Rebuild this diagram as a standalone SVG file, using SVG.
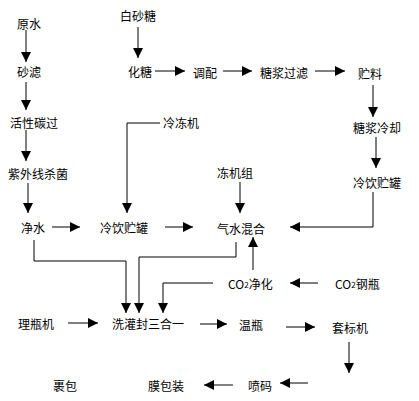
<svg xmlns="http://www.w3.org/2000/svg" width="419" height="401" viewBox="0 0 419 401">
<style>
text{font-family:"Noto Sans CJK SC","Noto Sans",sans-serif;font-size:12px;fill:#000;dominant-baseline:central}
.c path{fill:none;stroke:#000;stroke-width:1;marker-end:url(#a)}
</style>
<defs>
<marker id="a" viewBox="0 0 10 10" refX="10" refY="5" markerWidth="11" markerHeight="10" markerUnits="userSpaceOnUse" orient="auto">
<path d="M0,0 L10,5 L0,10 z" fill="#000"/>
</marker>
</defs>
<rect width="419" height="401" fill="#fff"/>
<g class="c">
<path d="M26,30 V62"/>
<path d="M26,82 V110"/>
<path d="M26,130 V161"/>
<path d="M28,183 V213"/>
<path d="M52,227 H80"/>
<path d="M165,227 H193"/>
<path d="M160,123 H127 V213"/>
<path d="M240,182 V213"/>
<path d="M138,27 V58"/>
<path d="M155,71 H185"/>
<path d="M223,71 H252"/>
<path d="M315,71 H345"/>
<path d="M373,85 V117"/>
<path d="M376,137 V168"/>
<path d="M373,192 V227 H290"/>
<path d="M253,270 V237"/>
<path d="M34,240 V261 H126 V313"/>
<path d="M236,242 V257 H139 V313"/>
<path d="M213,283 H163 V313"/>
<path d="M318,283 H290"/>
<path d="M68,323 H98"/>
<path d="M200,324 H227"/>
<path d="M286,327 H315"/>
<path d="M349,342 V373"/>
<path d="M308,383 H280"/>
<path d="M233,385 H204"/>
</g>
<g id="n1"><text x="17" y="23">原水</text></g>
<g id="n2"><text x="17" y="71">砂滤</text></g>
<g id="n3"><text x="10" y="122">活性碳过</text></g>
<g id="n4"><text x="8" y="173">紫外线杀菌</text></g>
<g id="n5"><text x="21" y="227">净水</text></g>
<g id="n6"><text x="100" y="227">冷饮贮罐</text></g>
<g id="n7"><text x="217" y="228">气水混合</text></g>
<g id="n8"><text x="217" y="172">冻机组</text></g>
<g id="n9"><text x="163" y="122">冷冻机</text></g>
<g id="n10"><text x="120" y="15">白砂糖</text></g>
<g id="n11"><text x="128" y="71">化糖</text></g>
<g id="n12"><text x="193" y="72">调配</text></g>
<g id="n13"><text x="260" y="72">糖浆过滤</text></g>
<g id="n14"><text x="358" y="73">贮料</text></g>
<g id="n15"><text x="353" y="127">糖浆冷却</text></g>
<g id="n16"><text x="353" y="182">冷饮贮罐</text></g>
<g id="n17"><text x="228" y="283">CO<tspan font-size="8" dy="1">2</tspan><tspan dy="-1">净化</tspan></text></g>
<g id="n18"><text x="335" y="283">CO<tspan font-size="8" dy="1">2</tspan><tspan dy="-1">钢瓶</tspan></text></g>
<g id="n19"><text x="18" y="323">理瓶机</text></g>
<g id="n20"><text x="112" y="323">洗灌封三合一</text></g>
<g id="n21"><text x="239" y="324">温瓶</text></g>
<g id="n22"><text x="332" y="327">套标机</text></g>
<g id="n23"><text x="248" y="385">喷码</text></g>
<g id="n24"><text x="148" y="385">膜包装</text></g>
<g id="n25"><text x="53" y="385">裹包</text></g>
</svg>
